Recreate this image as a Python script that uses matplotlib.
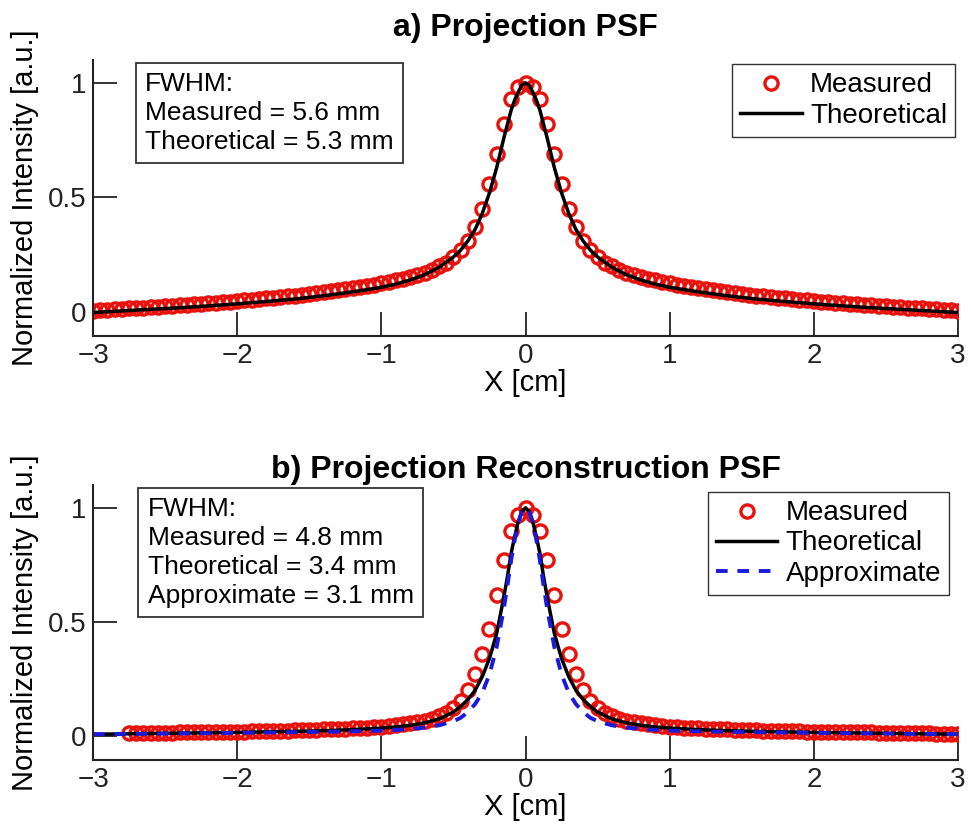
import numpy as np
import matplotlib
matplotlib.use("Agg")
import matplotlib.pyplot as plt

plt.rcParams['font.family'] = ['Liberation Sans', 'DejaVu Sans']

# ---- data (half profiles, x >= 0; curves are symmetric) ----
# measured samples every 0.5 mm
meas_x_half = [round(0.05 * i, 2) for i in range(61)]

meas_a_half = [1.00, 0.98, 0.93, 0.82, 0.69, 0.56, 0.45, 0.37, 0.31, 0.27,
               0.24, 0.215, 0.20, 0.185, 0.172, 0.162, 0.153, 0.145, 0.138, 0.132,
               0.126, 0.120, 0.115, 0.110, 0.105, 0.100, 0.096, 0.092, 0.088, 0.084,
               0.079, 0.076, 0.072, 0.069, 0.066, 0.063, 0.060, 0.057, 0.054, 0.051,
               0.047, 0.045, 0.043, 0.041, 0.039, 0.036, 0.034, 0.032, 0.030, 0.028,
               0.025, 0.023, 0.021, 0.019, 0.017, 0.016, 0.014, 0.012, 0.010, 0.008,
               0.006]

meas_b_half = [1.00, 0.97, 0.90, 0.77, 0.62, 0.47, 0.36, 0.27, 0.20, 0.155,
               0.125, 0.103, 0.088, 0.077, 0.068, 0.061, 0.056, 0.051, 0.047, 0.044,
               0.041, 0.039, 0.037, 0.035, 0.034, 0.032, 0.031, 0.030, 0.029, 0.028,
               0.027, 0.026, 0.025, 0.024, 0.024, 0.023, 0.022, 0.022, 0.021, 0.020,
               0.020, 0.019, 0.019, 0.018, 0.018, 0.017, 0.017, 0.016, 0.016, 0.015,
               0.015, 0.014, 0.014, 0.013, 0.013, 0.012, 0.012, 0.011, 0.011, 0.010,
               0.010]
meas_b_xmin = -2.75

theo_a_x = [0, 0.025, 0.05, 0.075, 0.1, 0.15, 0.2, 0.25, 0.3, 0.35, 0.4, 0.45, 0.5,
            0.6, 0.7, 0.8, 0.9, 1.0, 1.2, 1.4, 1.6, 1.8, 2.0, 2.2, 2.4, 2.6, 2.8, 3.0]
theo_a_y = [1.0, 0.99, 0.96, 0.925, 0.88, 0.76, 0.63, 0.52, 0.43, 0.36, 0.31, 0.27, 0.24,
            0.195, 0.163, 0.14, 0.122, 0.108, 0.088, 0.071, 0.057, 0.046, 0.036, 0.027,
            0.019, 0.012, 0.005, -0.002]

theo_b_x = [0, 0.025, 0.05, 0.075, 0.1, 0.125, 0.15, 0.2, 0.25, 0.3, 0.35, 0.4, 0.45,
            0.5, 0.6, 0.7, 0.8, 0.9, 1.0, 1.25, 1.5, 2.0, 2.5, 3.0]
theo_b_y = [1.0, 0.985, 0.94, 0.875, 0.80, 0.70, 0.61, 0.45, 0.34, 0.26, 0.20, 0.16, 0.13,
            0.105, 0.075, 0.058, 0.047, 0.040, 0.035, 0.027, 0.022, 0.016, 0.012, 0.008]
approx_b_y = [1.0, 0.985, 0.935, 0.86, 0.77, 0.66, 0.56, 0.39, 0.27, 0.19, 0.14, 0.105,
              0.08, 0.065, 0.047, 0.037, 0.031, 0.027, 0.024, 0.020, 0.018, 0.014, 0.011,
              0.008]

box_a = "FWHM:\nMeasured = 5.6 mm\nTheoretical = 5.3 mm"
box_b = "FWHM:\nMeasured = 4.8 mm\nTheoretical = 3.4 mm\nApproximate = 3.1 mm"


def mirror(xh, yh):
    xh = np.asarray(xh, float)
    yh = np.asarray(yh, float)
    return np.concatenate([-xh[:0:-1], xh]), np.concatenate([yh[:0:-1], yh])


def style_axes(ax, title, tpad):
    ax.set_xlim(-3, 3)
    ax.set_ylim(-0.105, 1.1)
    ax.set_xticks([-3, -2, -1, 0, 1, 2, 3])
    ax.set_xticklabels(['\u22123', '\u22122', '\u22121', '0', '1', '2', '3'])
    ax.set_yticks([0, 0.5, 1])
    ax.set_yticklabels(['0', '0.5', '1'])
    ax.spines['top'].set_visible(False)
    ax.spines['right'].set_visible(False)
    for s in ['left', 'bottom']:
        ax.spines[s].set_linewidth(1.5)
        ax.spines[s].set_color('#222222')
    ax.tick_params(direction='in', length=17, width=1.3, labelsize=20, pad=5,
                   colors='#222222')
    ax.set_xlabel('X [cm]', fontsize=21, labelpad=0)
    ax.set_ylabel('Normalized Intensity [a.u.]', fontsize=21, labelpad=6)
    ax.set_title(title, fontsize=23, fontweight='bold', pad=tpad)


fig = plt.figure(figsize=(9.71, 8.32), dpi=100)
ax1 = fig.add_axes([0.0958, 0.596, 0.8908, 0.332])
ax2 = fig.add_axes([0.0958, 0.0865, 0.8908, 0.3305])

mk = dict(linestyle='none', marker='o', markersize=9.5, markerfacecolor='none',
          markeredgecolor='#e8120c', markeredgewidth=2.4)

leg_kw = dict(loc='upper right', fontsize=20, numpoints=1, handlelength=2.2,
              handletextpad=0.3, borderpad=0.3, labelspacing=0.15,
              fancybox=False, edgecolor='#333333', framealpha=1)
box_kw = dict(boxstyle='square,pad=0.35', fc='white', ec='#333333', lw=1.3)

# panel a
mx, my = mirror(meas_x_half, meas_a_half)
tx, ty = mirror(theo_a_x, theo_a_y)
ax1.plot(mx, my, label='Measured', **mk)
ax1.plot(tx, ty, color='black', lw=2.5, label='Theoretical')
style_axes(ax1, 'a) Projection PSF', 17)
ax1.text(0.06, 0.955, box_a, transform=ax1.transAxes, fontsize=19, va='top',
         ha='left', linespacing=1.25, bbox=box_kw)
ax1.legend(bbox_to_anchor=(0.997, 0.985), borderaxespad=0, **leg_kw)

# panel b
mx, my = mirror(meas_x_half, meas_b_half)
keep = mx >= meas_b_xmin
tx, ty = mirror(theo_b_x, theo_b_y)
ax_, ay = mirror(theo_b_x, approx_b_y)
ax2.plot(mx[keep], my[keep], label='Measured', **mk)
ax2.plot(tx, ty, color='black', lw=2.5, label='Theoretical')
ax2.plot(ax_, ay, color='#1a1adf', lw=2.8, ls=(0, (3, 2.5)), label='Approximate')
style_axes(ax2, 'b) Projection Reconstruction PSF', 4)
ax2.text(0.063, 0.955, box_b, transform=ax2.transAxes, fontsize=19, va='top',
         ha='left', linespacing=1.25, bbox=box_kw)
ax2.legend(bbox_to_anchor=(0.99, 0.975), borderaxespad=0, **leg_kw)

fig.savefig('out.png', dpi=100)
